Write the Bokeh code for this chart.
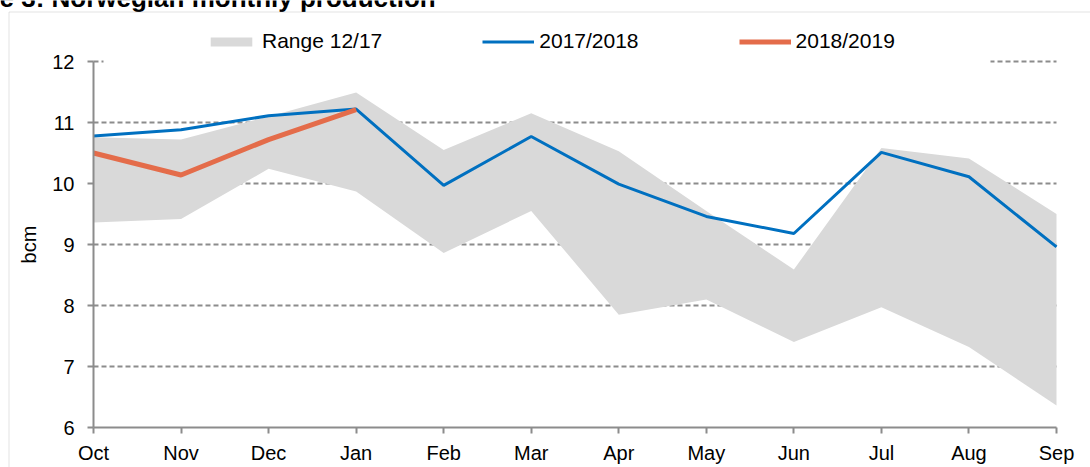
from bokeh.plotting import figure
from bokeh.models import Range1d, FixedTicker, Legend, LegendItem, Label, BoxAnnotation
from bokeh.embed import file_html
from bokeh.resources import INLINE

# ---- data ----
months = ["Oct", "Nov", "Dec", "Jan", "Feb", "Mar", "Apr", "May", "Jun", "Jul", "Aug", "Sep"]
range_low = [9.36, 9.42, 10.24, 9.87, 8.86, 9.55, 7.85, 8.10, 7.40, 7.97, 7.32, 6.36]
range_high = [10.76, 10.72, 11.10, 11.49, 10.55, 11.15, 10.53, 9.55, 8.59, 10.58, 10.41, 9.50]
prod_2017_18 = [10.78, 10.88, 11.11, 11.22, 9.97, 10.77, 9.99, 9.46, 9.18, 10.51, 10.11, 8.96]
prod_2018_19 = [10.50, 10.14, 10.72, 11.21]
y_ticks = [6, 7, 8, 9, 10, 11, 12]
title_text = "Figure 3: Norwegian monthly production"

FONT = "Liberation Sans"
W, H = 1090, 467
# pixel layout of the plotting area on the canvas
PX_L, PX_R, PX_T, PX_B = 93, 1056, 61, 427
nx = len(months) - 1
xs_per_px = nx / (PX_R - PX_L)
ys_per_px = (y_ticks[-1] - y_ticks[0]) / (PX_B - PX_T)

x_all = list(range(len(months)))
x_new = x_all[:len(prod_2018_19)]

p = figure(width=W, height=H, output_backend="svg", toolbar_location=None,
           x_range=Range1d(-PX_L * xs_per_px, nx + (W - PX_R) * xs_per_px),
           y_range=Range1d(y_ticks[0] - (H - PX_B) * ys_per_px, y_ticks[-1] + PX_T * ys_per_px),
           min_border=0)
p.outline_line_color = None
p.background_fill_color = "white"
p.border_fill_color = "white"
p.xgrid.grid_line_color = None
p.ygrid.grid_line_color = None

grid_color = "#8c8c8c"
# dashed horizontal gridlines over the month span
p.segment(x0=[x_all[0]] * (len(y_ticks) - 1), x1=[x_all[-1]] * (len(y_ticks) - 1),
          y0=y_ticks[1:], y1=y_ticks[1:], line_color=grid_color, line_width=1.8, line_dash="5 3")

band = p.varea(x=x_all, y1=range_low, y2=range_high, fill_color="#d9d9d9")
l1 = p.line(x=x_all, y=prod_2017_18, line_color="#0070c0", line_width=3)
l2 = p.line(x=x_new, y=prod_2018_19, line_color="#e46c4a", line_width=5)

# axes drawn at the data origin
axis_color = "#8c8c8c"
p.xaxis.fixed_location = y_ticks[0]
p.xaxis.bounds = (x_all[0], x_all[-1])
p.yaxis.fixed_location = x_all[0]
p.yaxis.bounds = (y_ticks[0], y_ticks[-1])
p.xaxis.ticker = FixedTicker(ticks=x_all)
p.xaxis.major_label_overrides = {i: m for i, m in enumerate(months)}
p.yaxis.ticker = FixedTicker(ticks=y_ticks)
for ax in (p.xaxis[0], p.yaxis[0]):
    ax.axis_line_color = axis_color
    ax.axis_line_width = 2
    ax.major_tick_line_color = axis_color
    ax.major_tick_line_width = 2
    ax.major_tick_out = 6
    ax.major_tick_in = 0
    ax.minor_tick_line_color = None
    ax.major_label_text_font = FONT
    ax.major_label_text_font_size = "20px"
    ax.major_label_text_color = "black"
p.xaxis.major_label_standoff = 8
p.yaxis.major_label_standoff = 13
p.yaxis.axis_label = "bcm"
p.yaxis.axis_label_text_font = FONT
p.yaxis.axis_label_text_font_size = "20px"
p.yaxis.axis_label_text_font_style = "normal"
p.yaxis.axis_label_text_color = "black"
p.yaxis.axis_label_standoff = 9

# white mask behind the legend on the top gridline
p.add_layout(BoxAnnotation(left=(103 - PX_L) * xs_per_px, right=(990 - PX_L) * xs_per_px,
                           bottom=y_ticks[-1] - 4 * ys_per_px, top=y_ticks[-1] + 4 * ys_per_px,
                           fill_color="white", fill_alpha=1, line_color=None))

legend = Legend(items=[LegendItem(label="Range 12/17", renderers=[band]),
                       LegendItem(label="2017/2018", renderers=[l1]),
                       LegendItem(label="2018/2019", renderers=[l2])],
                orientation="horizontal", location=(205, H - 53),
                glyph_width=52, glyph_height=11, label_standoff=5, spacing=100,
                padding=0, margin=0, border_line_color=None, background_fill_alpha=0,
                label_text_font=FONT, label_text_font_size="21px", label_text_color="black")
p.add_layout(legend, "center")

# title (cropped at the top of the picture)
p.add_layout(Label(x=-66, y=H + 2.5, x_units="screen", y_units="screen", text=title_text,
                   text_font=FONT, text_font_size="26px", text_font_style="bold",
                   text_color="black", text_baseline="alphabetic"))

# outer frame border (only left and top edges visible)
p.add_layout(BoxAnnotation(left=8.5, right=W + 50, top=H - 11.5, bottom=-50,
                           left_units="screen", right_units="screen", top_units="screen",
                           bottom_units="screen", fill_alpha=0, line_color="#a0a0a0", line_width=1))

open("out.html", "w").write(file_html(p, INLINE))
